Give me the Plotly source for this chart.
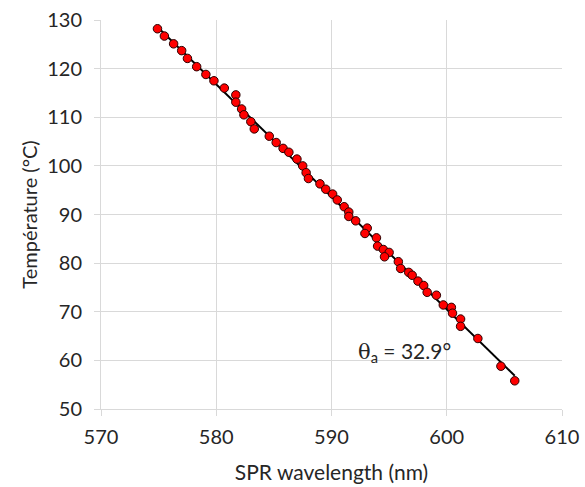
import numpy as np
import plotly.graph_objects as go

# SPR wavelength (nm) vs temperature (°C)
wavelength = [574.9, 575.5, 576.3, 577.0, 577.5, 578.3, 579.1, 579.8, 580.7, 581.7,
              581.7, 582.2, 582.4, 583.0, 583.3, 584.6, 585.2, 585.8, 586.3, 587.0,
              587.5, 587.8, 588.0, 589.0, 589.5, 590.1, 590.5, 591.1, 591.5, 591.5,
              592.1, 593.1, 592.9, 593.9, 594.0, 594.5, 595.0, 594.6, 595.8, 596.0,
              596.7, 597.0, 597.5, 598.0, 598.3, 599.1, 599.7, 600.4, 600.5, 601.2,
              601.2, 602.7, 604.7, 605.9]
temperature = [128.2, 126.7, 125.1, 123.7, 122.1, 120.4, 118.8, 117.5, 116.0, 114.6,
               113.1, 111.7, 110.5, 109.1, 107.6, 106.1, 104.8, 103.6, 102.8, 101.4,
               100.0, 98.6, 97.4, 96.3, 95.2, 94.2, 93.0, 91.6, 90.5, 89.6,
               88.7, 87.2, 86.1, 85.2, 83.5, 82.8, 82.2, 81.3, 80.3, 78.9,
               78.1, 77.5, 76.3, 75.4, 74.0, 73.4, 71.4, 70.9, 69.7, 68.5,
               67.0, 64.5, 58.8, 55.8]

x_ticks = [570, 580, 590, 600, 610]
y_ticks = [50, 60, 70, 80, 90, 100, 110, 120, 130]
angle_label = "<span style='font-family:\"DejaVu Serif\", serif'>θ</span><sub>a</sub> = 32.9°"

# linear trendline over the data range
slope, intercept = np.polyfit(wavelength, temperature, 1)
fit_x = [min(wavelength), max(wavelength)]
fit_y = [slope * v + intercept for v in fit_x]

font = "Lato, 'Open Sans', sans-serif"
grid = "#d9d9d9"

fig = go.Figure()

fig.add_trace(go.Scatter(
    x=fit_x, y=fit_y, mode="lines",
    line=dict(color="black", width=2),
    hoverinfo="skip",
))

fig.add_trace(go.Scatter(
    x=wavelength, y=temperature, mode="markers",
    marker=dict(color="#ff0000", size=8.5, line=dict(color="#2a0000", width=1)),
))

fig.add_annotation(
    x=600.5, y=61.7, text=angle_label, showarrow=False,
    xanchor="right", yanchor="middle",
    font=dict(family=font, size=21, color="#262626"),
)

fig.update_layout(
    width=585, height=487,
    margin=dict(l=101, r=23, t=20, b=78),
    showlegend=False,
    plot_bgcolor="white", paper_bgcolor="white",
    font=dict(family=font, size=20, color="#262626"),
)

fig.update_xaxes(
    range=[570, 610], tickvals=x_ticks,
    showgrid=True, gridcolor=grid, gridwidth=1,
    showline=True, linecolor=grid, linewidth=1,
    ticks="outside", ticklen=6, tickcolor=grid,
    zeroline=False, automargin=False, ticklabelstandoff=4,
    title=dict(text="SPR wavelength (nm)", font=dict(size=21), standoff=18),
)
fig.update_yaxes(
    range=[50, 130], tickvals=y_ticks,
    showgrid=True, gridcolor=grid, gridwidth=1,
    showline=True, linecolor=grid, linewidth=1,
    ticks="outside", ticklen=6, tickcolor=grid,
    zeroline=False, automargin=False, ticklabelstandoff=8,
    title=dict(text="Température (°C)", font=dict(size=20), standoff=4),
)

# page has a default body margin, drop it so the figure sits at the corner
fig.write_html("out.html", config={"displayModeBar": False},
               post_script="document.body.style.margin='0';")
